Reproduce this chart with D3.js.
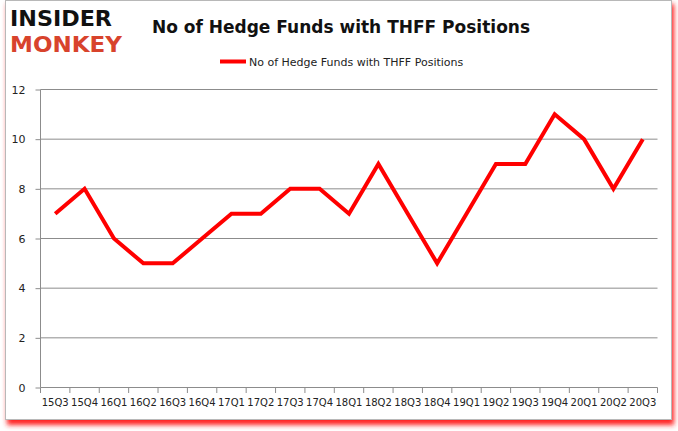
<!DOCTYPE html>
<html><head><meta charset="utf-8">
<script src="https://cdn.jsdelivr.net/npm/d3@7"></script>
<style>body{margin:0;background:#fff}svg{display:block}</style>
</head><body>
<svg id="c" width="678" height="431"></svg>
<script>
const categories = ["15Q3","15Q4","16Q1","16Q2","16Q3","16Q4","17Q1","17Q2","17Q3","17Q4","18Q1","18Q2","18Q3","18Q4","19Q1","19Q2","19Q3","19Q4","20Q1","20Q2","20Q3"];
const values = [7,8,6,5,5,6,7,7,8,8,7,9,7,5,7,9,9,11,10,8,10];
const yTicks = [0,2,4,6,8,10,12];
const seriesName = "No of Hedge Funds with THFF Positions";
const title = "No of Hedge Funds with THFF Positions";

const svg = d3.select("#c");
const defs = svg.append("defs");
const f = defs.append("filter").attr("id","sh").attr("x","-5%").attr("y","-5%").attr("width","110%").attr("height","115%");
f.append("feGaussianBlur").attr("stdDeviation",2.5);

// frame with red shadow
svg.append("rect").attr("x",7).attr("y",4).attr("width",667).attr("height",421).attr("fill","#ff2020").attr("filter","url(#sh)");
svg.append("rect").attr("x",5.5).attr("y",0.5).attr("width",666).attr("height",419).attr("fill","#fff").attr("stroke","#b8b8b8");

const x = d3.scaleBand().domain(categories).range([40.5,657.5]);
const y = d3.scaleLinear().domain([0,12]).range([387.5,89.5]);

// grid
svg.append("g").selectAll("line").data(yTicks.filter(d=>d>0)).join("line")
  .attr("x1",40.5).attr("x2",657.5).attr("y1",d=>y(d)).attr("y2",d=>y(d))
  .attr("stroke","#8c8c8c").attr("stroke-width",1);

// y axis
const ya = svg.append("g").attr("transform","translate(40.5,0)").call(d3.axisLeft(y).tickValues(yTicks).tickSize(5).tickPadding(10));
ya.select(".domain").attr("stroke","#8c8c8c").attr("d","M0,89.5V387.5");
ya.selectAll(".tick line").attr("stroke","#8c8c8c");
ya.selectAll("text").attr("font-family","Tahoma, 'DejaVu Sans', sans-serif").attr("font-size",11).attr("fill","#222");

// x axis
const xa = svg.append("g").attr("transform","translate(0,387.5)").call(d3.axisBottom(x).tickSize(0).tickPadding(11));
xa.select(".domain").attr("stroke","#8c8c8c").attr("d","M40.5,0H657.5");
xa.selectAll("text").attr("font-family","'DejaVu Sans Condensed', 'DejaVu Sans', sans-serif").attr("font-size",10.5).attr("fill","#222").attr("textLength",27).attr("lengthAdjust","spacingAndGlyphs");
svg.append("g").selectAll("line").data(d3.range(categories.length+1)).join("line")
  .attr("x1",i=>40.5+i*x.step()).attr("x2",i=>40.5+i*x.step())
  .attr("y1",387.5).attr("y2",393).attr("stroke","#8c8c8c");

// line
svg.append("path").datum(values)
  .attr("d", d3.line().x((d,i)=>x(categories[i])+x.bandwidth()/2).y(d=>y(d)))
  .attr("fill","none").attr("stroke","#ff0000").attr("stroke-width",4).attr("stroke-linejoin","miter");

// title
svg.append("text").attr("x",341).attr("y",33).attr("text-anchor","middle")
  .attr("font-family","Tahoma, 'DejaVu Sans', sans-serif").attr("font-weight","bold").attr("font-size",17).attr("fill","#111").text(title);

// legend
svg.append("line").attr("x1",220).attr("x2",246).attr("y1",61.5).attr("y2",61.5).attr("stroke","#ff0000").attr("stroke-width",4);
svg.append("text").attr("x",249).attr("y",65.5).attr("font-family","Tahoma, 'DejaVu Sans', sans-serif").attr("font-size",11).attr("fill","#222").text(seriesName);

// logo
svg.append("text").attr("x",10).attr("y",26).attr("font-family","'DejaVu Sans', sans-serif").attr("font-weight","bold").attr("font-size",21)
  .attr("textLength",102).attr("lengthAdjust","spacingAndGlyphs").attr("fill","#111").text("INSIDER");
svg.append("text").attr("x",10).attr("y",52).attr("font-family","'DejaVu Sans', sans-serif").attr("font-weight","bold").attr("font-size",21)
  .attr("textLength",112).attr("lengthAdjust","spacingAndGlyphs").attr("fill","#d8432c").text("MONKEY");
</script>
</body></html>
